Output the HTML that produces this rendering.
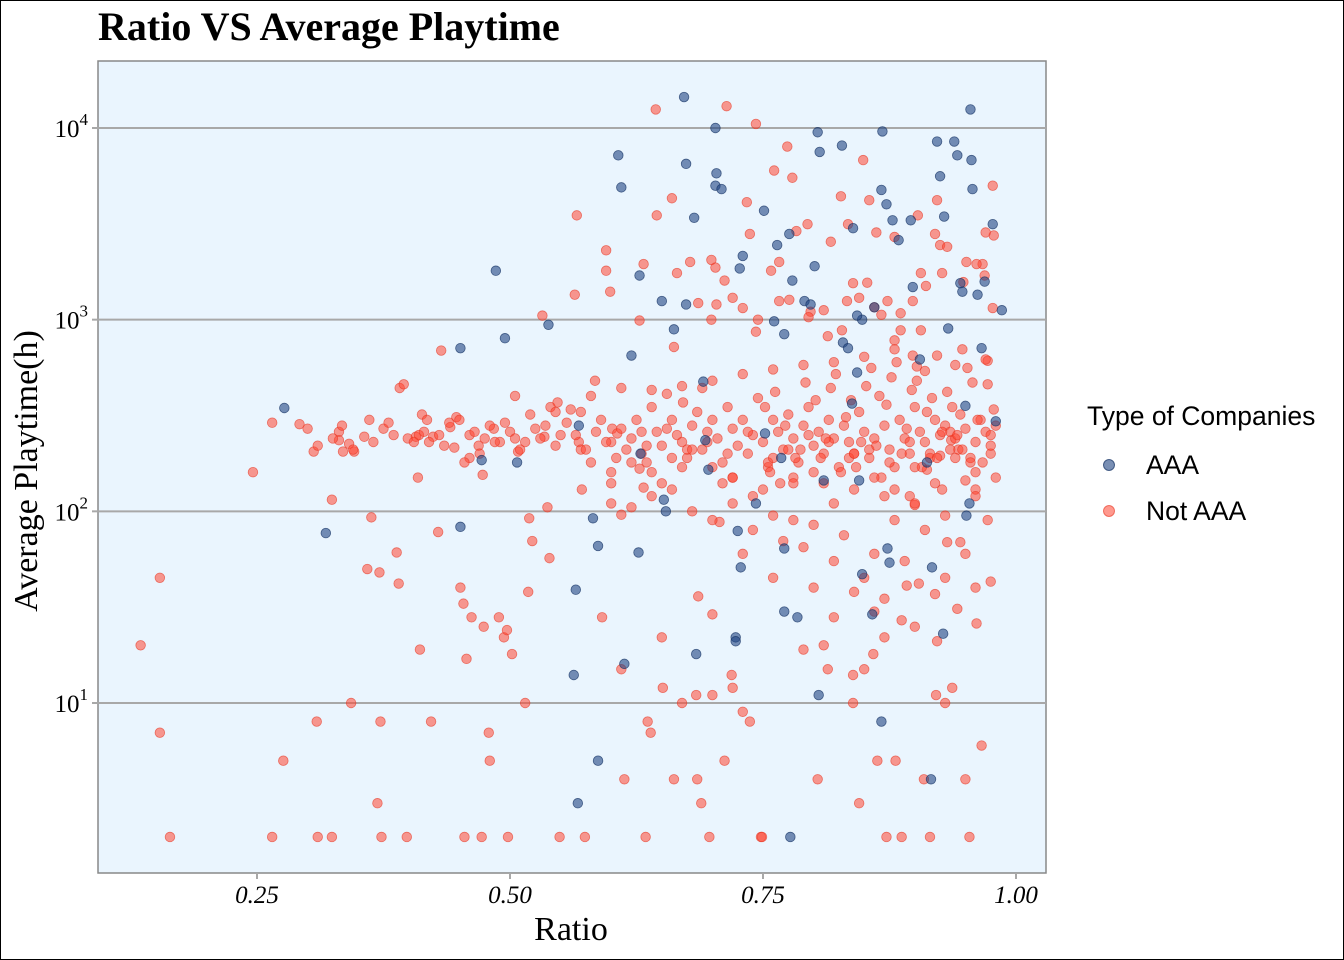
<!DOCTYPE html>
<html><head><meta charset="utf-8"><style>
html,body{margin:0;padding:0;background:#fff;}
svg{display:block;}
</style></head><body>
<svg id="chart" width="1344" height="960" xmlns="http://www.w3.org/2000/svg">
<rect x="0.5" y="0.5" width="1343" height="959" fill="#fff" stroke="#000" stroke-width="1"/>
<text x="98" y="40" font-family="Liberation Serif, serif" font-weight="bold" font-size="40" fill="#000">Ratio VS Average Playtime</text>
<rect x="98" y="61" width="948" height="812" fill="#EAF5FE" stroke="#888" stroke-width="1.5"/>
<g id="grid"></g>
<g id="yticks"></g>
<g id="xticks"></g>
<g id="pts"></g>
<text x="571" y="940" text-anchor="middle" font-family="Liberation Serif, serif" font-size="34">Ratio</text>
<text transform="translate(37,471) rotate(-90)" text-anchor="middle" font-family="Liberation Serif, serif" font-size="34">Average Playtime(h)</text>
<g>
<text x="1087" y="425" font-family="Liberation Sans, sans-serif" font-size="26.5">Type of Companies</text>
<g><circle cx="1109" cy="465" r="5.5" fill="rgba(31,69,130,0.6)" stroke="rgba(20,50,100,0.7)"/><text x="1146" y="474" font-family="Liberation Sans, sans-serif" font-size="26.5">AAA</text></g>
<g><circle cx="1109" cy="511" r="5.5" fill="rgba(255,70,50,0.55)" stroke="rgba(230,50,30,0.6)"/><text x="1146" y="520" font-family="Liberation Sans, sans-serif" font-size="26.5">Not AAA</text></g>
</g>
</svg>
<script>
const xTicks=[0.25,0.5,0.75,1.0];
const xTickLabels=["0.25","0.50","0.75","1.00"];
const yTicks=[1,2,3,4];
const aaaRatio=[.277,.318,.486,.451,.495,.451,.472,.507,.538,.568,.565,.563,.567,.587,.587,.582,.607,.610,.628,.620,.629,.627,.613,.650,.652,.654,.662,.674,.672,.674,.682,.703,.704,.703,.709,.684,.696,.693,.691,.723,.723,.727,.730,.728,.725,.743,.751,.761,.752,.764,.771,.776,.768,.771,.771,.784,.777,.779,.791,.797,.801,.804,.806,.810,.805,.828,.829,.834,.839,.838,.843,.848,.843,.848,.845,.868,.867,.872,.878,.860,.858,.867,.873,.875,.884,.896,.898,.905,.912,.917,.916,.922,.925,.929,.933,.939,.942,.947,.945,.955,.956,.957,.962,.966,.969,.977,.980,.986,.951,.954,.928,.950];
const aaaPlay=[346,77,1800,710,800,83,185,180,940,280,39,14,3,5,66,92,7200,4900,1700,650,200,61,16,1250,115,100,890,1200,14500,6500,3400,10000,5800,5000,4800,18,165,235,475,22,21,1850,2150,51,79,110,3700,980,255,2450,840,2800,190,64,30,28,2,1600,1250,1200,1900,9500,7500,145,11,8100,760,710,3000,365,530,1000,1050,47,145,9600,4750,4000,3300,1160,29,8,64,54,2600,3300,1480,620,180,51,4,8500,5600,3450,900,8500,7200,1400,1550,12500,6800,4800,1350,710,1580,3150,295,1120,95,110,23,355];
const notRatio=[.135,.154,.154,.164,.246,.265,.276,.265,.292,.300,.306,.309,.310,.324,.324,.331,.334,.331,.341,.343,.346,.356,.361,.363,.359,.371,.369,.372,.373,.375,.380,.388,.390,.391,.395,.398,.399,.407,.409,.411,.413,.418,.424,.422,.429,.432,.441,.447,.451,.454,.457,.455,.460,.462,.469,.473,.474,.479,.480,.472,.484,.489,.494,.497,.502,.498,.508,.505,.515,.518,.519,.522,.532,.534,.537,.539,.549,.547,.556,.566,.564,.568,.571,.574,.584,.591,.595,.595,.599,.601,.606,.610,.610,.613,.628,.628,.632,.632,.636,.634,.639,.644,.645,.650,.651,.660,.662,.662,.665,.670,.671,.678,.686,.689,.685,.684,.697,.700,.700,.699,.704,.707,.712,.714,.719,.720,.730,.737,.743,.748,.749,.758,.761,.774,.779,.797,.804,.810,.814,.839,.839,.845,.849,.863,.872,.881,.887,.915,.954,.909,.950,.966,.977,.975,.921,.937,.930,.859,.870,.887,.892,.904,.922,.932,.945,.942,.961,.900,.895,.912,.927,.925,.936,.943,.950,.960,.972,.975,.978,.978,.970,.967,.961,.969,.977,.972,.947,.922,.903,.920,.925,.932,.927,.951,.948,.911,.906,.898,.886,.880,.862,.855,.834,.827,.817,.794,.783,.766,.737,.734,.712,.703,.720,.730,.699,.686,.745,.743,.766,.776,.795,.810,.814,.828,.833,.839,.845,.853,.860,.867,.873,.880,.886,.898,.906,.922,.902,
.55,.56,.57,.58,.585,.59,.6,.605,.61,.62,.625,.63,.635,.64,.645,.65,.655,.66,.665,.67,.675,.68,.685,.69,.695,.7,.705,.71,.715,.72,.725,.73,.735,.74,.745,.75,.755,.76,.765,.77,.775,.78,.785,.79,.795,.8,.805,.81,.815,.82,.825,.83,.835,.84,.845,.85,.855,.86,.865,.87,.875,.88,.885,.89,.895,.9,.905,.91,.915,.92,.925,.93,.935,.94,.945,.95,.955,.96,.965,.97,.975,.98,
.57,.6,.63,.66,.69,.72,.75,.78,.81,.84,.87,.9,.93,.96,.58,.61,.64,.67,.7,.73,.76,.79,.82,.85,.88,.91,.94,.97,
.6,.65,.68,.7,.72,.74,.76,.77,.79,.8,.82,.83,.85,.86,.87,.88,.89,.9,.91,.92,.93,.95,.96,.73,.76,.8,.82,.84,.86,.78,.71,.67,.64,.62,.79,.85,
.45,.46,.47,.48,.49,.5,.51,.52,.53,.54,.455,.475,.495,.515,.535,.545,.43,.44,.42,.41,
.31,.325,.335,.345,.365,.385,.405,.415,.435,.445,.465,.485,.505,.525,.545,.565,.575,.595,.615,.635,.655,.675,.695,.715,.735,.755,.775,.795,.815,.835,.855,.875,.895,.915,.935,.955,.975,
.752,.762,.772,.782,.792,.802,.812,.822,.832,.842,.852,.862,.872,.882,.892,.902,.912,.922,.932,.942,.952,.962,.972,
.757,.767,.787,.807,.827,.847,.867,.887,.907,.927,.947,.967,.817,.837,.857,.877,.897,.917,.937,.957,
.6,.62,.64,.66,.68,.7,.72,.74,.76,.78,.8,.82,.84,.86,.88,.9,.92,.94,.96,.98];
const notPlay=[20,45,7,2,160,290,5,2,285,270,205,8,2,115,2,260,280,235,225,10,205,245,300,93,50,48,3,8,2,270,290,61,42,440,460,2,240,245,150,19,320,300,245,8,78,690,275,310,40,33,17,2,190,28,220,155,25,7,5,2,270,28,22,24,18,2,205,400,10,38,92,70,1050,245,105,57,2,370,290,3500,1350,230,130,2,480,28,2300,1800,1400,270,255,96,15,4,990,167,133,1950,8,2,7,12500,3500,22,12,4300,720,4,1750,10,370,2000,36,3,4,11,2,29,11,2050,1200,88,5,13000,14,12,9,8,10500,2,2,1800,6000,8000,5500,1100,4,20,15,14,10,3,6800,5,2,5,2,2,2,4,4,6,5000,43,11,12,10,18,22,27,41,42,21,69,69,31,26,108,120,165,130,195,235,210,145,130,90,200,340,2750,2850,1950,1950,1700,1150,610,700,4200,3500,2800,2450,2400,1750,2000,1570,1500,1750,1250,880,2700,2850,4200,3150,4400,2550,3150,2900,2000,2800,4100,1600,1870,1300,1150,1000,1220,1000,865,1250,1270,1030,1120,820,880,1250,1550,1300,1560,1160,1060,1250,780,1080,650,880,650,570,
250,340,210,180,260,300,230,190,270,240,300,200,180,350,260,220,410,300,250,230,190,280,330,210,260,300,240,180,350,270,220,300,200,250,390,230,170,300,260,210,320,240,180,280,350,220,260,200,300,240,170,280,230,200,330,260,190,240,400,280,210,170,300,240,200,350,260,230,190,300,250,280,210,240,320,270,190,230,300,260,220,280,
330,160,260,190,440,150,130,150,140,130,120,110,95,120,400,440,430,450,480,520,550,580,600,640,700,540,580,620,
110,140,100,90,110,80,95,70,65,85,55,75,45,60,35,90,55,25,80,37,45,60,40,60,45,40,28,38,30,90,140,170,120,105,19,15,
300,250,200,280,230,260,210,320,240,350,180,240,290,230,280,220,250,290,230,250,
220,240,205,210,230,250,230,260,220,215,260,230,240,270,330,250,210,230,210,220,270,210,230,200,260,180,210,250,230,190,210,180,230,200,260,180,250,
350,420,280,190,470,380,240,520,310,170,450,220,360,600,270,480,330,190,420,250,560,300,460,
160,140,210,190,160,230,150,200,170,260,210,180,440,380,560,500,430,390,350,470,
140,180,160,130,210,170,150,120,190,140,160,110,200,150,130,170,140,190,160,150];
const NS='http://www.w3.org/2000/svg';
function xs(v){return 257+(v-0.25)*1012;}
function ys(v){return 703-(Math.log10(v)-1)*191.67;}
const grid=document.getElementById('grid'),yt=document.getElementById('yticks'),xt=document.getElementById('xticks'),pts=document.getElementById('pts');
yTicks.forEach(function(e){
  const y=ys(Math.pow(10,e));
  const l=document.createElementNS(NS,'line');
  
  
  l.setAttribute('x1',98);l.setAttribute('x2',1046);l.setAttribute('y1',y);l.setAttribute('y2',y);
  l.setAttribute('stroke','#a8a8a8');l.setAttribute('stroke-width','2');grid.appendChild(l);
  const tk=document.createElementNS(NS,'line');
  
  
  tk.setAttribute('x1',92);tk.setAttribute('x2',98);tk.setAttribute('y1',y);tk.setAttribute('y2',y);
  tk.setAttribute('stroke','#a8a8a8');tk.setAttribute('stroke-width','2');yt.appendChild(tk);
  const t=document.createElementNS(NS,'text');
  
  
  t.setAttribute('x',88);t.setAttribute('y',y+9);t.setAttribute('text-anchor','end');
  t.setAttribute('font-family','Liberation Serif, serif');t.setAttribute('font-size','25');
  t.innerHTML='10<tspan dy="-12" font-size="17">'+e+'</tspan>';
  yt.appendChild(t);
});
xTicks.forEach(function(v,i){
  const x=xs(v);
  const tk=document.createElementNS(NS,'line');
  
  
  tk.setAttribute('x1',x);tk.setAttribute('x2',x);tk.setAttribute('y1',873);tk.setAttribute('y2',879);
  tk.setAttribute('stroke','#a8a8a8');tk.setAttribute('stroke-width','2');xt.appendChild(tk);
  const t=document.createElementNS(NS,'text');
  
  
  t.setAttribute('x',x);t.setAttribute('y',903);t.setAttribute('text-anchor','middle');
  t.setAttribute('font-family','Liberation Serif, serif');t.setAttribute('font-size','25');t.setAttribute('font-style','italic');
  t.textContent=xTickLabels[i];xt.appendChild(t);
});
function drawSeries(rs,ps,fill,stroke,name){
  for(let i=0;i<rs.length;i++){
    const c=document.createElementNS(NS,'circle');
    
    
    c.setAttribute('cx',xs(rs[i]));c.setAttribute('cy',ys(ps[i]));c.setAttribute('r','4.8');
    c.setAttribute('fill',fill);c.setAttribute('stroke',stroke);c.setAttribute('stroke-width','0.8');
    pts.appendChild(c);
  }
}
drawSeries(notRatio,notPlay,'rgba(255,70,50,0.55)','rgba(230,50,30,0.6)','point-not-aaa');
drawSeries(aaaRatio,aaaPlay,'rgba(31,69,130,0.6)','rgba(20,50,100,0.7)','point-aaa');
</script>
</body></html>
